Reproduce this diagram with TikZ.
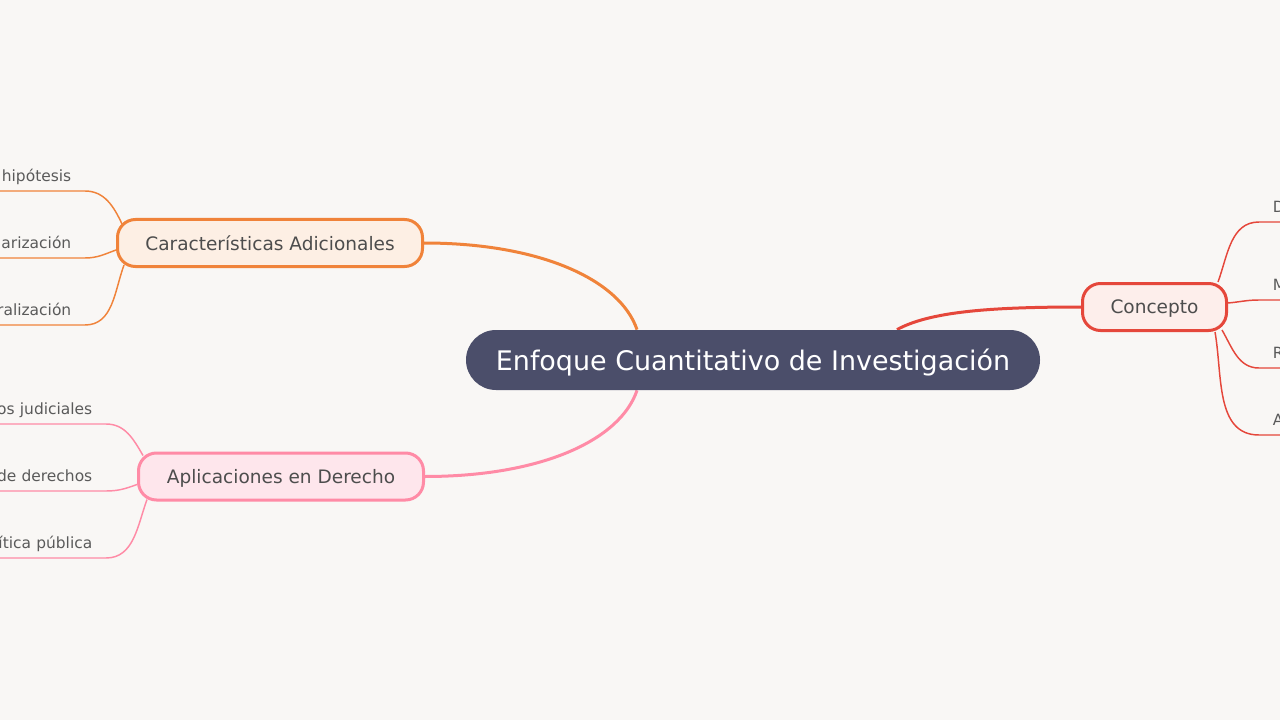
\documentclass[tikz,border=0pt]{standalone}
\usepackage{fontspec}
\setmainfont{DejaVu Sans}
\usepackage{xcolor}
\usepackage{tikz}
\usetikzlibrary{calc,backgrounds}
\definecolor{myBack}{HTML}{F9F7F5}
\definecolor{myRoot}{HTML}{4B4E6A}
\definecolor{myRed}{HTML}{E5473B}
\definecolor{myRedFill}{HTML}{FDEEEB}
\definecolor{myOrange}{HTML}{F0833A}
\definecolor{myOrangeFill}{HTML}{FDEFE4}
\definecolor{myPink}{HTML}{FF8BA6}
\definecolor{myPinkFill}{HTML}{FEE6EC}
\definecolor{myText}{HTML}{4D4D4D}
\definecolor{myLeafText}{HTML}{5A5A5A}

\begin{document}
\begin{tikzpicture}[x=0.75pt,y=0.75pt,semithick]
  \tikzstyle{root}=[rounded corners=22.5pt,fill=myRoot,draw=none,text=white,font=\fontsize{20.2}{24}\selectfont,text depth=0pt,minimum width=430.5pt,minimum height=45pt]
  \tikzstyle{topic}=[rounded corners=13.5pt,line width=2.25pt,text=myText,font=\fontsize{13.9}{17}\selectfont,text depth=0pt,minimum height=35.25pt]
  \tikzstyle{leaf}=[text=myLeafText,font=\fontsize{11.6}{14}\selectfont,text width=75pt,inner xsep=10pt,inner ysep=3.5pt,text depth=3pt]
  \tikzstyle{branch}=[line width=2.25pt]
  \tikzstyle{twig}=[line width=1.1pt]

  \useasboundingbox (0,0) rectangle (1280,-720);

  \node[root] (0) at (753,-360) {Enfoque Cuantitativo de Investigación};
  \node[topic,draw=myRed,fill=myRedFill,minimum width=108pt] (1) at (1154.5,-307) {Concepto};
  \node[topic,draw=myOrange,fill=myOrangeFill,minimum width=228.75pt] (2) at (270,-243) {Características Adicionales};
  \node[topic,draw=myPink,fill=myPinkFill,minimum width=213.75pt] (3) at (281,-476.5) {Aplicaciones en Derecho};

  \node[leaf,align=left,anchor=south west] (11) at (1259,-222) {D};
  \node[leaf,align=left,anchor=south west] (12) at (1259,-300) {M};
  \node[leaf,align=left,anchor=south west] (13) at (1259,-368) {R};
  \node[leaf,align=left,anchor=south west] (14) at (1259,-435) {A};

  \node[leaf,align=right,anchor=south east] (21) at (85,-191) {hipótesis};
  \node[leaf,align=right,anchor=south east] (22) at (85,-258) {larización};
  \node[leaf,align=right,anchor=south east] (23) at (85,-325) {ralización};

  \node[leaf,align=right,anchor=south east] (31) at (106,-424) {os judiciales};
  \node[leaf,align=right,anchor=south east] (32) at (106,-491) {de derechos};
  \node[leaf,align=right,anchor=south east] (33) at (106,-558) {ítica pública};

  \begin{scope}[on background layer]
    \fill[myBack] (0,0) rectangle (1280,-720);
    \clip (0,0) rectangle (1280,-720);

    \draw[branch,myRed]    ($(0.north)+(144,0)$) .. controls +(33,18) and +(-91,0) .. (1.west);
    \draw[branch,myOrange] (2.east) .. controls +(116,0) and +(-17,50) .. ($(0.north)+(-116,0)$);
    \draw[branch,myPink]   (3.east) .. controls +(116,0) and +(-17,-50) .. ($(0.south)+(-116,0)$);

    \draw[twig,myRed] ($(1.east)+(-10,25)$)  to[out=70,in=180]  (11.south west) -- (11.south east);
    \draw[twig,myRed] ($(1.east)+(0,4)$)     to[out=5,in=180]   (12.south west) -- (12.south east);
    \draw[twig,myRed] ($(1.east)+(-6,-23)$)  to[out=-60,in=180] (13.south west) -- (13.south east);
    \draw[twig,myRed] ($(1.east)+(-13,-25)$) to[out=-80,in=180] (14.south west) -- (14.south east);

    \draw[twig,myOrange] ($(2.west)+(6,19)$)   to[out=115,in=0] (21.south east) -- (21.south west);
    \draw[twig,myOrange] ($(2.west)+(0,-7)$)   to[out=200,in=0] (22.south east) -- (22.south west);
    \draw[twig,myOrange] ($(2.west)+(8,-22)$)  to[out=250,in=0] (23.south east) -- (23.south west);

    \draw[twig,myPink] ($(3.west)+(6,21)$)   to[out=120,in=0] (31.south east) -- (31.south west);
    \draw[twig,myPink] ($(3.west)+(0,-8)$)   to[out=200,in=0] (32.south east) -- (32.south west);
    \draw[twig,myPink] ($(3.west)+(10,-23)$) to[out=250,in=0] (33.south east) -- (33.south west);
  \end{scope}
\end{tikzpicture}
\end{document}
